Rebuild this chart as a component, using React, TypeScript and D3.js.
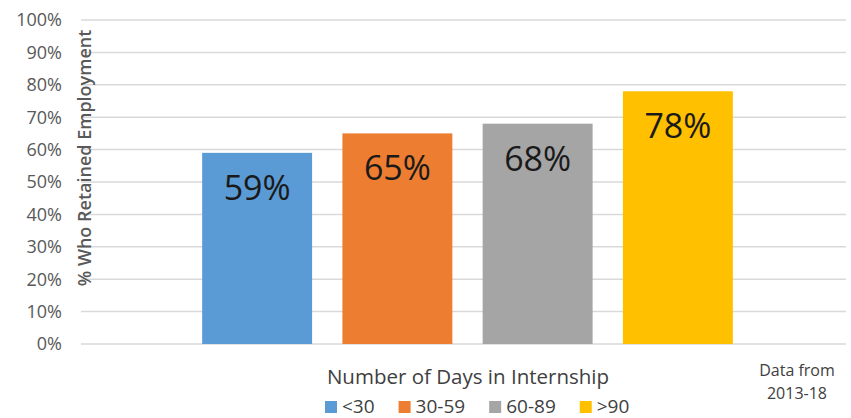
import React, { useEffect, useRef } from 'react';
import * as d3 from 'd3';

const categories = ['<30', '30-59', '60-89', '>90'];
const values = [59, 65, 68, 78];
const colors = ['#5b9bd5', '#ed7d31', '#a5a5a5', '#ffc000'];
const yTicks = [0, 10, 20, 30, 40, 50, 60, 70, 80, 90, 100];

const FONT = '"Open Sans", "Liberation Sans", sans-serif';

const App = () => {
    const ref = useRef(null);

    useEffect(() => {
        const svgWidth = 851, svgHeight = 418;
        const svg = d3.select(ref.current);
        svg.selectAll('*').remove();
        svg.attr('width', svgWidth).attr('height', svgHeight);

        const y = d3.scaleLinear().domain([0, 100]).range([344, 20]);
        const x = d3.scaleBand()
            .domain(categories)
            .range([187, 748])
            .paddingInner(0.216)
            .paddingOuter(0.108);

        // gridlines
        svg.append('g')
            .selectAll('line')
            .data(yTicks)
            .enter().append('line')
            .attr('x1', 81)
            .attr('x2', 846)
            .attr('y1', d => y(d))
            .attr('y2', d => y(d))
            .attr('stroke', '#d9d9d9')
            .attr('stroke-width', 1.5);

        // y tick labels
        svg.append('g')
            .selectAll('text')
            .data(yTicks)
            .enter().append('text')
            .attr('x', 62)
            .attr('y', d => y(d))
            .attr('dy', '0.36em')
            .attr('text-anchor', 'end')
            .style('font-family', FONT)
            .style('font-size', '18px')
            .attr('fill', '#595959')
            .text(d => d + '%');

        // bars
        svg.append('g')
            .selectAll('rect')
            .data(values)
            .enter().append('rect')
            .attr('x', (d, i) => x(categories[i]))
            .attr('y', d => y(d))
            .attr('width', x.bandwidth())
            .attr('height', d => y(0) - y(d))
            .attr('fill', (d, i) => colors[i]);

        // value labels
        svg.append('g')
            .selectAll('text')
            .data(values)
            .enter().append('text')
            .attr('x', (d, i) => x(categories[i]) + x.bandwidth() / 2)
            .attr('y', d => y(d) + 47)
            .attr('text-anchor', 'middle')
            .style('font-family', FONT)
            .style('font-size', '34px')
            .attr('fill', '#1a1a1a')
            .text(d => d + '%');

        // y axis title
        svg.append('text')
            .attr('transform', 'translate(91,158) rotate(-90)')
            .attr('text-anchor', 'middle')
            .style('font-family', FONT)
            .style('font-size', '18px')
            .style('font-weight', '600')
            .attr('fill', '#595959')
            .text('% Who Retained Employment');

        // x axis title
        svg.append('text')
            .attr('x', 468)
            .attr('y', 384)
            .attr('text-anchor', 'middle')
            .style('font-family', FONT)
            .style('font-size', '20.5px')
            .attr('fill', '#404040')
            .text('Number of Days in Internship');

        // note
        svg.append('text')
            .attr('x', 797)
            .attr('y', 376)
            .attr('text-anchor', 'middle')
            .style('font-family', FONT)
            .style('font-size', '16px')
            .attr('fill', '#404040')
            .text('Data from');
        svg.append('text')
            .attr('x', 797)
            .attr('y', 399)
            .attr('text-anchor', 'middle')
            .style('font-family', FONT)
            .style('font-size', '16px')
            .attr('fill', '#404040')
            .text('2013-18');

        // legend
        const legend = svg.append('g');
        let lx = 325;
        categories.forEach((c, i) => {
            legend.append('rect')
                .attr('x', lx)
                .attr('y', 401)
                .attr('width', 12)
                .attr('height', 12)
                .attr('fill', colors[i]);
            const t = legend.append('text')
                .attr('x', lx + 17)
                .attr('y', 413)
                .style('font-family', FONT)
                .style('font-size', '19px')
                .attr('fill', '#404040')
                .text(c);
            const w = t.node().getComputedTextLength();
            lx += 17 + w + 24;
        });
    }, []);

    return <svg ref={ref} style={{ position: 'absolute', left: 0, top: 0, background: '#fff' }} />;
};

export default App;
